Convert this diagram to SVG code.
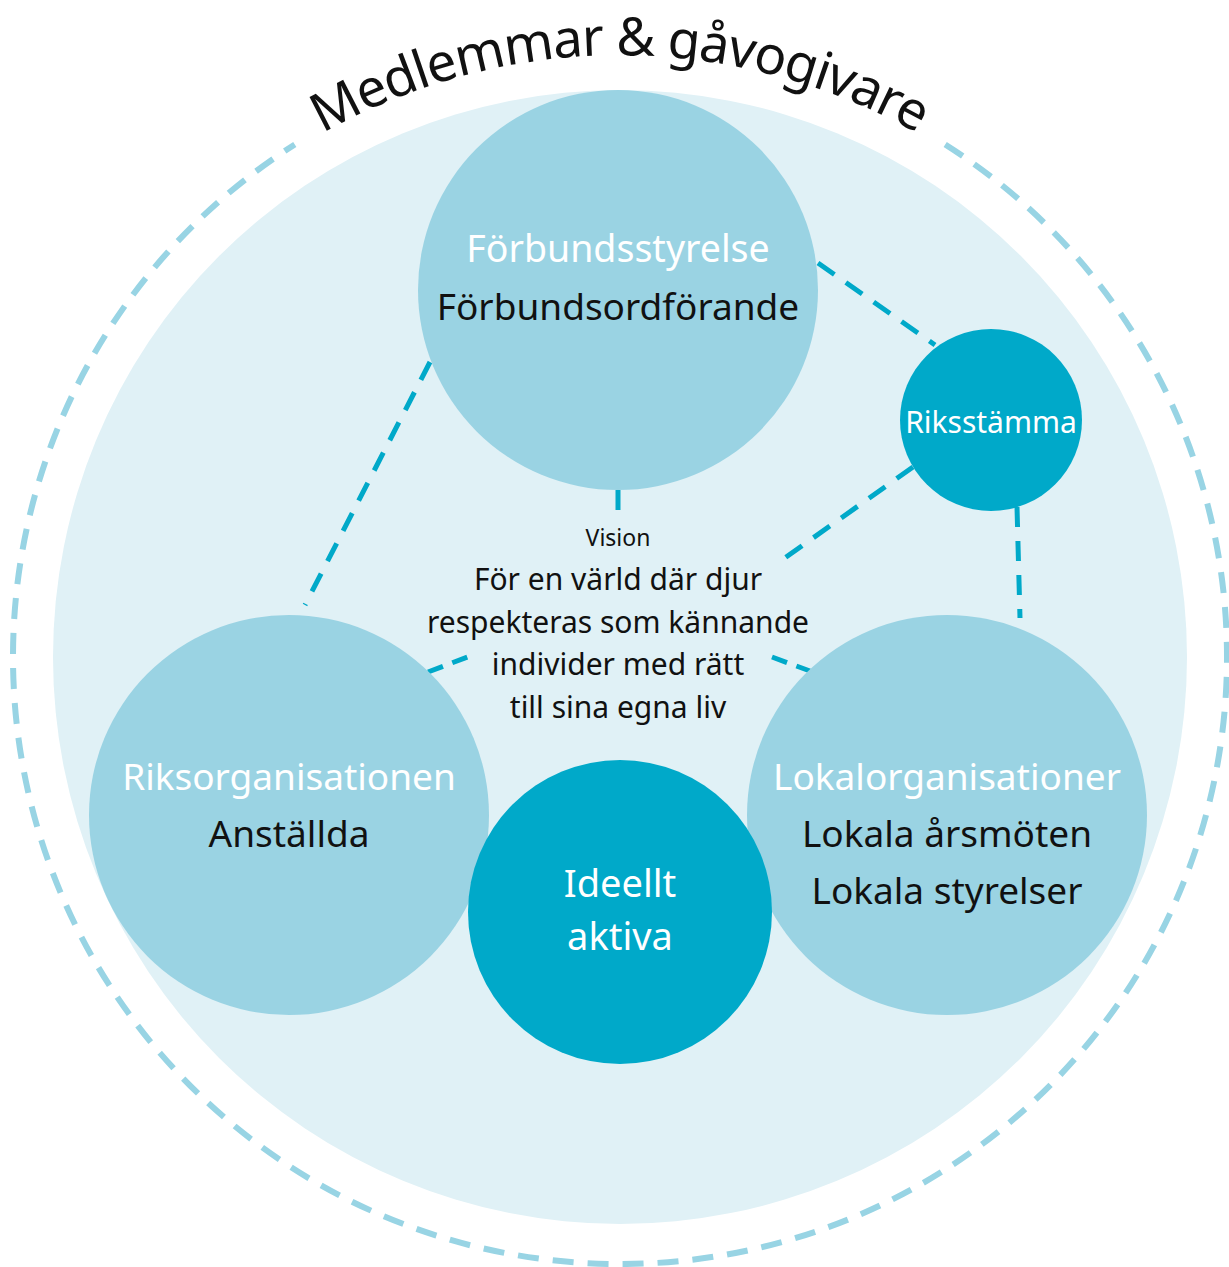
<svg xmlns="http://www.w3.org/2000/svg" width="1229" height="1267" viewBox="0 0 1229 1267">
<style>
.t{font-family:"Noto Sans","Open Sans","Liberation Sans",sans-serif;text-anchor:middle}
.w{fill:#ffffff}
.k{fill:#111111}
.mid{fill:#9ad3e3}
.dark{fill:#00a9c9}
.conn{fill:none;stroke:#00a9c9;stroke-width:5;stroke-dasharray:20 14}
</style>
<defs>
<path id="titleArc" d="M 16 659 A 604 604 0 0 1 1224 659"/>
</defs>
<g id="members">
<circle cx="620" cy="657" r="567" fill="#e0f1f6"/>
<path d="M 945.2 144.5 A 607 607 0 1 1 294.8 144.5" fill="none" stroke="#98d4e4" stroke-width="6" stroke-dasharray="21 14"/>
<text class="t k" font-size="53"><textPath href="#titleArc" startOffset="50%" textLength="622" lengthAdjust="spacing">Medlemmar &amp; gåvogivare</textPath></text>
</g>
<g id="connectors">
<line class="conn" x1="818" y1="263" x2="935" y2="345"/>
<line class="conn" x1="430" y1="362" x2="305" y2="605"/>
<line class="conn" x1="618" y1="490" x2="618" y2="510" style="stroke-dasharray:none"/>
<line class="conn" x1="913" y1="467" x2="782" y2="560"/>
<line class="conn" x1="1017" y1="507" x2="1020" y2="618"/>
<line class="conn" x1="428" y1="672" x2="470" y2="656" style="stroke-dasharray:16 10"/>
<line class="conn" x1="772" y1="657" x2="810" y2="671" style="stroke-dasharray:16 10"/>
</g>
<g id="forbundsstyrelse">
<circle class="mid" cx="618" cy="290" r="200"/>
<text class="t w" x="618" y="262" font-size="37.5">Förbundsstyrelse</text>
<text class="t k" x="618" y="320" font-size="37">Förbundsordförande</text>
</g>
<g id="riksstamma">
<circle class="dark" cx="991" cy="420" r="91"/>
<text class="t w" x="991" y="433" font-size="30">Riksstämma</text>
</g>
<g id="vision">
<text class="t k" x="618" y="546" font-size="23">Vision</text>
<text class="t k" x="618" y="590" font-size="30">För en värld där djur</text>
<text class="t k" x="618" y="633" font-size="30">respekteras som kännande</text>
<text class="t k" x="618" y="675" font-size="30">individer med rätt</text>
<text class="t k" x="618" y="718" font-size="30">till sina egna liv</text>
</g>
<g id="riksorganisationen">
<circle class="mid" cx="289" cy="815" r="200"/>
<text class="t w" x="289" y="790" font-size="37">Riksorganisationen</text>
<text class="t k" x="289" y="847" font-size="37">Anställda</text>
</g>
<g id="lokalorganisationer">
<circle class="mid" cx="947" cy="815" r="200"/>
<text class="t w" x="947" y="790" font-size="37">Lokalorganisationer</text>
<text class="t k" x="947" y="847" font-size="37">Lokala årsmöten</text>
<text class="t k" x="947" y="904" font-size="37">Lokala styrelser</text>
</g>
<g id="ideellt-aktiva">
<circle class="dark" cx="620" cy="912" r="152"/>
<text class="t w" x="620" y="897" font-size="38">Ideellt</text>
<text class="t w" x="620" y="950" font-size="38">aktiva</text>
</g>
</svg>
